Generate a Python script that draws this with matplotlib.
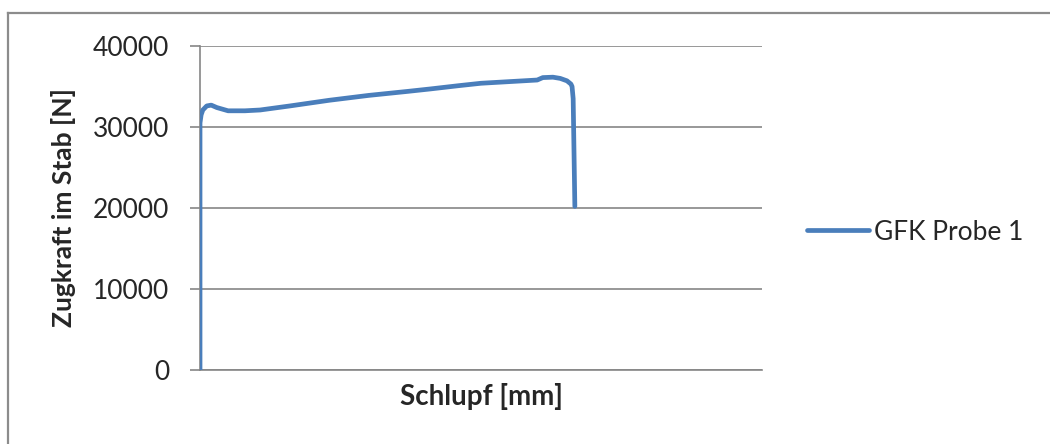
import matplotlib
matplotlib.use("Agg")
import matplotlib.pyplot as plt
from matplotlib.lines import Line2D

plt.rcParams['font.family'] = ['Lato', 'DejaVu Sans']

# Data (x in arbitrary slip units, no tick labels shown)
schlupf = [0.0, 0.0, 0.02, 0.05, 0.12, 0.2, 0.3, 0.5, 0.8, 1.07, 1.6, 2.3,
           3.0, 3.7, 4.1, 4.6, 5.0, 5.5, 6.0, 6.1, 6.28, 6.41, 6.53, 6.6,
           6.62, 6.64, 6.67]
zugkraft = [0, 30500, 31500, 32100, 32600, 32700, 32400, 32000, 32000, 32100,
            32600, 33300, 33900, 34400, 34700, 35100, 35400, 35600, 35800,
            36100, 36150, 36000, 35700, 35300, 35000, 33500, 20200]
series_name = "GFK Probe 1"
y_ticks = [0, 10000, 20000, 30000, 40000]
x_label = "Schlupf [mm]"
y_label = "Zugkraft im Stab [N]"

W, H = 1050, 444
fig = plt.figure(figsize=(W / 100, H / 100), dpi=100)
fig.patch.set_facecolor('white')

# outer chart border (top and left visible; the rest is cropped)
fig.add_artist(Line2D([8 / W, 8 / W], [0, 1 - 13 / H], transform=fig.transFigure,
                      color='#8c8c8c', lw=1.6))
fig.add_artist(Line2D([8 / W, 1], [1 - 13 / H, 1 - 13 / H], transform=fig.transFigure,
                      color='#8c8c8c', lw=1.6))

left, right, top, bottom = 200, 762, 46, 370
ax = fig.add_axes([left / W, 1 - bottom / H, (right - left) / W, (bottom - top) / H])

grid_col = '#868686'
ax.plot(schlupf, zugkraft, color='#4a7ebb', lw=3.4, solid_capstyle='round',
        solid_joinstyle='round', label=series_name, zorder=3)

ax.set_xlim(0, 10)
ax.set_ylim(0, 40000)
ax.set_yticks(y_ticks)
ax.set_yticklabels([str(v) for v in y_ticks])
ax.set_xticks([])
ax.yaxis.grid(True, color=grid_col, lw=1.2)
ax.set_axisbelow(True)

for s in ['top', 'right']:
    ax.spines[s].set_visible(False)
for s in ['left', 'bottom']:
    ax.spines[s].set_color(grid_col)
    ax.spines[s].set_linewidth(1.2)

ax.tick_params(axis='y', direction='out', length=7, width=1.2, color=grid_col,
               pad=15, labelsize=19, labelcolor='#262626')

ax.set_xlabel(x_label, fontsize=20, fontweight='bold', color='#262626', labelpad=9)
ax.set_ylabel(y_label, fontsize=19, fontweight='bold', color='#262626', labelpad=12)

leg = ax.legend(loc='center left', bbox_to_anchor=(807 / W, 1 - 232 / H),
                bbox_transform=fig.transFigure, frameon=False, fontsize=19,
                handlelength=2.35, handletextpad=0.2, borderaxespad=0, borderpad=0)
for t in leg.get_texts():
    t.set_color('#262626')

fig.savefig('out.png', dpi=100, facecolor='white')
